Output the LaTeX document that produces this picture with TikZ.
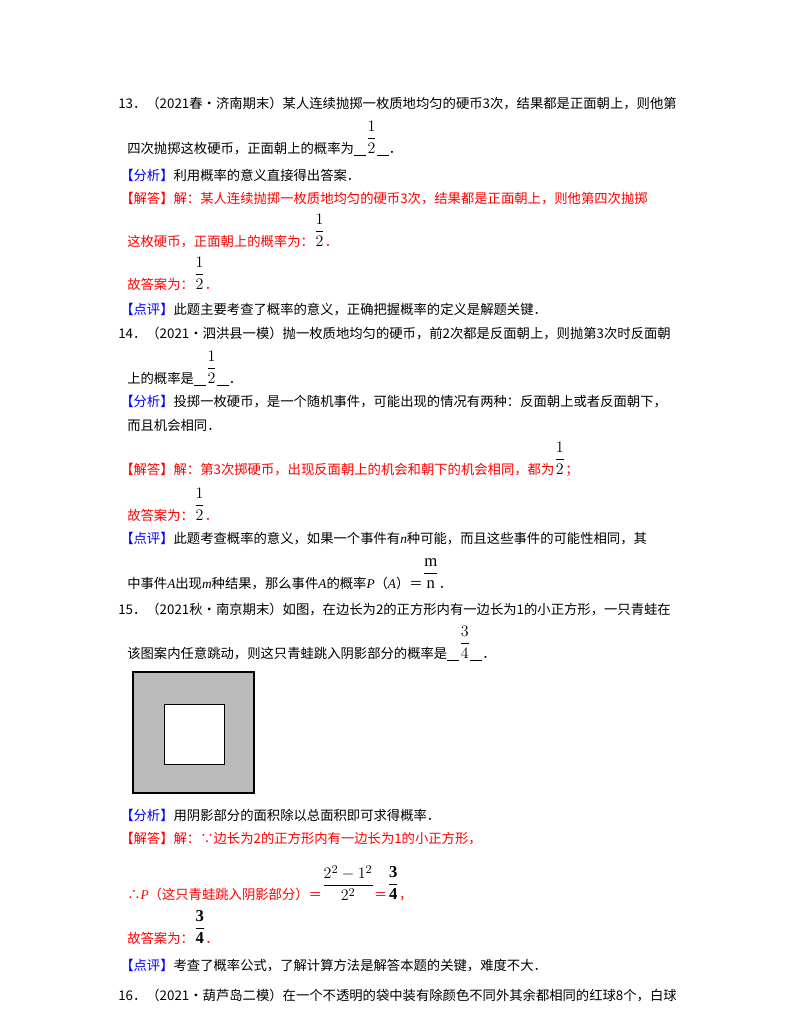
\documentclass[tikz,border=0pt]{standalone}
\usepackage{fontspec}
\setmainfont{Liberation Serif}
\newfontfamily\cjk{Noto Sans CJK SC}
\definecolor{kb}{RGB}{0,0,255}
\definecolor{kr}{RGB}{255,0,0}
\newcommand{\fr}[2]{\raisebox{0.8em}{\fontsize{12.5}{14}\selectfont$\displaystyle\frac{#1}{#2}$}}
\newcommand{\blank}[1]{\underline{\hspace{0.9em}}#1\underline{\hspace{0.9em}}}
\newcommand{\vi}[1]{{\rmfamily\itshape #1}}
\newcommand{\fxtag}{\textcolor{kb}{【分析】}}
\newcommand{\jdtag}{\textcolor{kr}{【解答】}}
\newcommand{\dptag}{\textcolor{kb}{【点评】}}
\begin{document}
\begin{tikzpicture}[x=0.75pt,y=-0.75pt,
  txt/.style={anchor=base west,inner sep=0,font=\cjk\fontsize{10}{12}\selectfont},
  red/.style={txt,text=kr}]
\useasboundingbox[fill=white] (0,0) rectangle (800,1035);
\node[txt] (l1) at (118,108) {13．（2021春•济南期末）某人连续抛掷一枚质地均匀的硬币3次，结果都是正面朝上，则他第};
\node[txt] (l2) at (127,153) {四次抛掷这枚硬币，正面朝上的概率为\blank{\fr{1}{2}}．};
\node[txt] (l3) at (120,180) {\fxtag 利用概率的意义直接得出答案．};
\node[txt] (l4) at (120,203) {\jdtag\textcolor{kr}{解：某人连续抛掷一枚质地均匀的硬币3次，结果都是正面朝上，则他第四次抛掷}};
\node[red] (l5) at (127,246) {这枚硬币，正面朝上的概率为：\textcolor{black}{\fr{1}{2}}．};
\node[red] (l6) at (127,289) {故答案为：\textcolor{black}{\fr{1}{2}}．};
\node[txt] (l7) at (120,314) {\dptag 此题主要考查了概率的意义，正确把握概率的定义是解题关键．};
\node[txt] (l8) at (118,338) {14．（2021•泗洪县一模）抛一枚质地均匀的硬币，前2次都是反面朝上，则抛第3次时反面朝};
\node[txt] (l9) at (127,383) {上的概率是\blank{\fr{1}{2}}．};
\node[txt] (l10) at (120,406) {\fxtag 投掷一枚硬币，是一个随机事件，可能出现的情况有两种：反面朝上或者反面朝下，};
\node[txt] (l11) at (127,430) {而且机会相同．};
\node[txt] (l12) at (120,474) {\jdtag\textcolor{kr}{解：第3次掷硬币，出现反面朝上的机会和朝下的机会相同，都为}\fr{1}{2}\textcolor{kr}{；}};
\node[red] (l13) at (127,520) {故答案为：\textcolor{black}{\fr{1}{2}}．};
\node[txt] (l14) at (120,543) {\dptag 此题考查概率的意义，如果一个事件有\vi{n}种可能，而且这些事件的可能性相同，其};
\node[txt] (l15) at (127,588) {中事件\vi{A}出现\vi{m}种结果，那么事件\vi{A}的概率\vi{P}（\vi{A}）＝\fr{\mathrm{m}}{\mathrm{n}}．};
\node[txt] (l16) at (118,614) {15．（2021秋•南京期末）如图，在边长为2的正方形内有一边长为1的小正方形，一只青蛙在};
\node[txt] (l17) at (127,658) {该图案内任意跳动，则这只青蛙跳入阴影部分的概率是\blank{\fr{3}{4}}．};
\draw[fill=black!27,line width=0.8pt] (133,672) rectangle (254,793);
\draw[fill=white,line width=0.6pt] (164,704) rectangle (224,764);
\node[txt] (l18) at (120,820) {\fxtag 用阴影部分的面积除以总面积即可求得概率．};
\node[txt] (l19) at (120,843) {\jdtag\textcolor{kr}{解：∵边长为2的正方形内有一边长为1的小正方形，}};
\node[red] (l20) at (127,899) {∴\vi{P}（这只青蛙跳入阴影部分）＝\textcolor{black}{\raisebox{0.7em}{\fontsize{12.5}{14}\selectfont$\displaystyle\frac{2^2-1^2}{2^2}$}}＝\textcolor{black}{\fr{\mathbf{3}}{\mathbf{4}}}，};
\node[red] (l21) at (127,943) {故答案为：\textcolor{black}{\fr{\mathbf{3}}{\mathbf{4}}}．};
\node[txt] (l22) at (120,970) {\dptag 考查了概率公式，了解计算方法是解答本题的关键，难度不大．};
\node[txt] (l23) at (118,1000) {16．（2021•葫芦岛二模）在一个不透明的袋中装有除颜色不同外其余都相同的红球8个，白球};
\end{tikzpicture}
\end{document}
